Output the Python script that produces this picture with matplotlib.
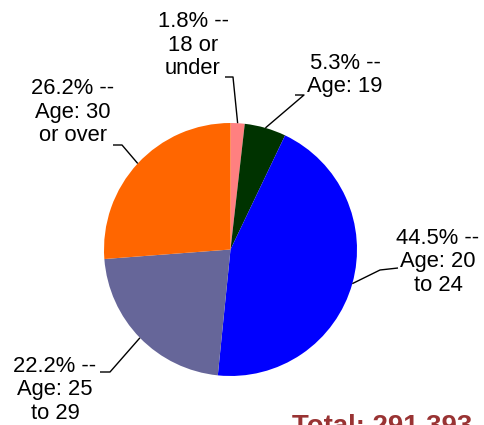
import numpy as np
import matplotlib.pyplot as plt

# Age groups, share of total (%)
groups = ["18 or\nunder", "Age: 19", "Age: 20\nto 24", "Age: 25\nto 29", "Age: 30\nor over"]
shares = [1.8, 5.3, 44.5, 22.2, 26.2]
colors = ["#FF8080", "#003300", "#0000FF", "#666699", "#FF6600"]
total_label = "Total: 291,393"

W, H = 484, 425
fig = plt.figure(figsize=(W / 100, H / 100), dpi=100)
ax = fig.add_axes([0, 0, 1, 1])

plt.rcParams["font.family"] = ["Liberation Sans", "DejaVu Sans"]

cx, cy, r = 230.5, H - 249.5, 126.5
wedges, _ = ax.pie(shares, colors=colors, startangle=90, counterclock=False,
                   center=(cx, cy), radius=r, frame=True,
                   wedgeprops=dict(linewidth=0))
ax.set_xlim(0, W)
ax.set_ylim(0, H)
ax.set_aspect("equal")
ax.axis("off")

# label layout in pixel coords (from top): text centre, elbow start, elbow end
layout = [
    ((193, 45), (225, 77), (233, 77)),
    ((345, 75), (295, 95), (304, 95)),
    ((438, 262), (398, 268), (380, 270)),
    ((55, 390), (100, 372), (110, 372)),
    ((73, 112), (113, 145), (122, 145)),
]

for w, g, s, (txt, p1, p2) in zip(wedges, groups, shares, layout):
    ang = np.deg2rad((w.theta1 + w.theta2) / 2)
    ex, ey = cx + r * np.cos(ang), cy + r * np.sin(ang)
    ax.plot([p1[0], p2[0], ex], [H - p1[1], H - p2[1], ey],
            color="black", lw=1.0, solid_capstyle="butt")
    ax.text(txt[0], H - txt[1], "%.1f%% --\n%s" % (s, g), ha="center", va="center",
            fontsize=15.8, linespacing=1.15, color="black")

# the total sits partly below the bottom edge, as in the original
ax.text(292, -8, total_label, ha="left", va="baseline", fontsize=19.8,
        fontweight="bold", color="#993333")

fig.savefig("out.png", dpi=100)
